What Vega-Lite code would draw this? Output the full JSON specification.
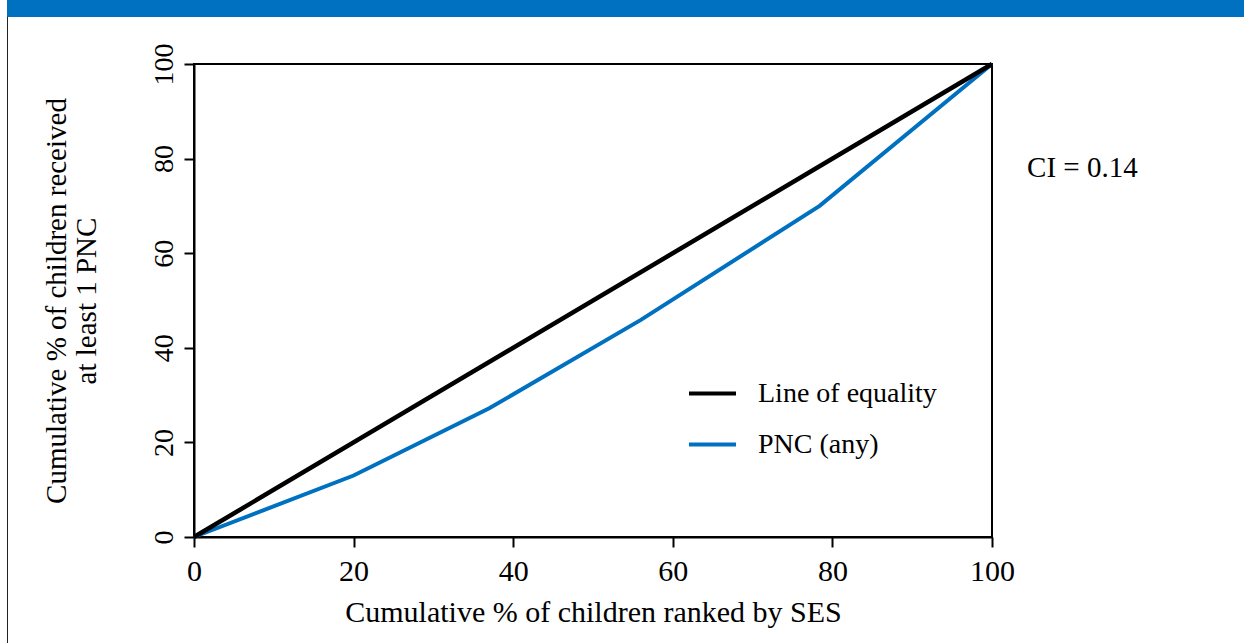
{
  "$schema": "https://vega.github.io/schema/vega-lite/v6.json",
  "background": "white",
  "padding": {"left": 7, "top": 0, "right": 0, "bottom": 0},
  "spacing": 0,
  "config": {
    "view": {"stroke": null},
    "font": "Liberation Serif",
    "axis": {
      "grid": false,
      "labelFlush": false,
      "domainColor": "black",
      "domainWidth": 2,
      "tickColor": "black",
      "tickWidth": 2,
      "tickSize": 10,
      "labelFont": "Liberation Serif",
      "labelColor": "black",
      "titleFont": "Liberation Serif",
      "titleFontWeight": "normal",
      "titleColor": "black"
    }
  },
  "vconcat": [
    {
      "width": 1237,
      "height": 17,
      "view": {"fill": "#0070C0", "stroke": null},
      "data": {"values": []},
      "mark": "point"
    },
    {
      "spacing": 33,
      "hconcat": [
        {
          "width": 1,
          "height": 626,
          "view": {"fill": "#222222", "stroke": null},
          "data": {"values": []},
          "mark": "point"
        },
        {
          "spacing": 0,
          "vconcat": [
            {
              "width": 10,
              "height": 25,
              "data": {"values": []},
              "mark": "point"
            },
            {
              "width": 798,
              "height": 473,
              "view": {"stroke": "black", "strokeWidth": 2},
              "data": {
                "values": [
                  {"series": "Line of equality", "x": 0, "y": 0},
                  {"series": "Line of equality", "x": 100, "y": 100},
                  {"series": "PNC (any)", "x": 0, "y": 0},
                  {"series": "PNC (any)", "x": 20, "y": 13},
                  {"series": "PNC (any)", "x": 37, "y": 27.2},
                  {"series": "PNC (any)", "x": 56, "y": 45.9},
                  {"series": "PNC (any)", "x": 78.4, "y": 70},
                  {"series": "PNC (any)", "x": 100, "y": 100}
                ]
              },
              "layer": [
                {
                  "transform": [{"filter": "datum.series === 'PNC (any)'"}],
                  "mark": {"type": "line", "strokeWidth": 4},
                  "encoding": {
                    "x": {
                      "field": "x",
                      "type": "quantitative",
                      "scale": {"domain": [0, 100], "nice": false, "zero": false},
                      "axis": {
                        "title": "Cumulative % of children ranked by SES",
                        "values": [0, 20, 40, 60, 80, 100],
                        "labelFontSize": 30,
                        "labelPadding": 9,
                        "titleFontSize": 30,
                        "titlePadding": 11
                      }
                    },
                    "y": {
                      "field": "y",
                      "type": "quantitative",
                      "scale": {"domain": [0, 100], "nice": false, "zero": false},
                      "axis": {
                        "title": ["Cumulative % of children received", "at least 1 PNC"],
                        "values": [0, 20, 40, 60, 80, 100],
                        "labelAngle": 270,
                        "labelAlign": "center",
                        "labelBaseline": "alphabetic",
                        "labelFontSize": 28,
                        "labelPadding": 12,
                        "titleFontSize": 29,
                        "titleLineHeight": 30,
                        "titlePadding": 49
                      }
                    },
                    "color": {
                      "field": "series",
                      "type": "nominal",
                      "scale": {
                        "domain": ["Line of equality", "PNC (any)"],
                        "range": ["black", "#0070C0"]
                      },
                      "legend": {
                        "title": null,
                        "orient": "none",
                        "legendX": 680,
                        "legendY": 368,
                        "symbolType": "stroke",
                        "symbolSize": 2209,
                        "symbolStrokeWidth": 4,
                        "labelFont": "Liberation Serif",
                        "labelFontSize": 28,
                        "labelColor": "black",
                        "labelLimit": 400,
                        "labelOffset": 20,
                        "rowPadding": 11
                      }
                    }
                  }
                },
                {
                  "transform": [{"filter": "datum.series === 'Line of equality'"}],
                  "mark": {"type": "line", "strokeWidth": 4.5},
                  "encoding": {
                    "x": {"field": "x", "type": "quantitative"},
                    "y": {"field": "y", "type": "quantitative"},
                    "color": {"field": "series", "type": "nominal"}
                  }
                },
                {
                  "data": {"values": [{"label": "CI = 0.14"}]},
                  "mark": {
                    "type": "text",
                    "align": "left",
                    "baseline": "middle",
                    "font": "Liberation Serif",
                    "fontSize": 29,
                    "fill": "black"
                  },
                  "encoding": {
                    "text": {"field": "label", "type": "nominal"},
                    "x": {"datum": 104.4},
                    "y": {"datum": 78}
                  }
                }
              ]
            }
          ]
        }
      ]
    }
  ]
}
